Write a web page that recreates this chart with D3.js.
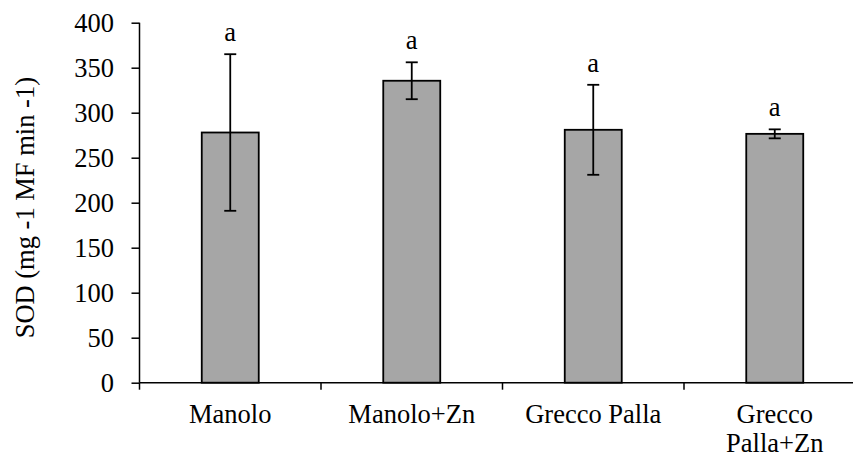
<!DOCTYPE html>
<html>
<head>
<meta charset="utf-8">
<script src="https://cdn.jsdelivr.net/npm/d3@7"></script>
<style>
  html, body { margin: 0; padding: 0; background: #fff; }
  svg text { font-family: "Liberation Serif", "Times New Roman", serif; fill: #000; }
</style>
</head>
<body>
<svg id="chart" width="853" height="457"></svg>
<script>
// SOD activity per treatment: mean, standard deviation and significance letter
const categories = ["Manolo", "Manolo+Zn", "Grecco Palla", "Grecco Palla+Zn"];
const categoryLines = [["Manolo"], ["Manolo+Zn"], ["Grecco Palla"], ["Grecco", "Palla+Zn"]];
const means = [278, 335.5, 281, 276.5];
const errors = [87, 20.5, 50, 5];
const letters = ["a", "a", "a", "a"];
const yTicks = [0, 50, 100, 150, 200, 250, 300, 350, 400];
const yTitle = "SOD (mg -1 MF min -1)";

const svg = d3.select("#chart");
const plotLeft = 139.5, plotTop = 22.7, plotBottom = 382.7, step = 181.5;

const x = d3.scaleBand()
  .domain(categories)
  .range([plotLeft, plotLeft + step * categories.length])
  .padding(0);

const y = d3.scaleLinear().domain([0, 400]).range([plotBottom, plotTop]);

const barW = x.bandwidth() * 0.314;
const fontSize = 26.5;

// Bars
svg.append("g").selectAll("rect")
  .data(categories)
  .join("rect")
  .attr("x", d => x(d) + x.bandwidth() / 2 - barW / 2)
  .attr("y", (d, i) => y(means[i]))
  .attr("width", barW)
  .attr("height", (d, i) => y(0) - y(means[i]))
  .attr("fill", "#a6a6a6")
  .attr("stroke", "#000")
  .attr("stroke-width", 1.8);

// Error bars
const eg = svg.append("g").attr("stroke", "#000").attr("stroke-width", 1.8);
categories.forEach((c, i) => {
  const cx = x(c) + x.bandwidth() / 2;
  const hi = y(means[i] + errors[i]), lo = y(means[i] - errors[i]);
  eg.append("line").attr("x1", cx).attr("x2", cx).attr("y1", hi).attr("y2", lo);
  eg.append("line").attr("x1", cx - 6).attr("x2", cx + 6).attr("y1", hi).attr("y2", hi);
  eg.append("line").attr("x1", cx - 6).attr("x2", cx + 6).attr("y1", lo).attr("y2", lo);
});

// Significance letters
svg.append("g").selectAll("text")
  .data(categories)
  .join("text")
  .attr("x", d => x(d) + x.bandwidth() / 2)
  .attr("y", (d, i) => y(means[i] + errors[i]) - 13)
  .attr("text-anchor", "middle")
  .attr("font-size", fontSize)
  .text((d, i) => letters[i]);

// Y axis
const yAxis = svg.append("g")
  .attr("transform", `translate(${plotLeft},0)`)
  .call(d3.axisLeft(y).tickValues(yTicks).tickSize(8).tickPadding(17.5).tickFormat(d3.format("d")));
yAxis.selectAll("path, line").attr("stroke", "#000").attr("stroke-width", 1.5);
yAxis.select(".domain").attr("d", `M0,${plotTop}V${plotBottom}`);
yAxis.selectAll("text").attr("font-size", fontSize).attr("font-family", "Liberation Serif");

// X axis (ticks sit on category boundaries)
const xg = svg.append("g").attr("transform", `translate(0,${plotBottom})`);
xg.append("line")
  .attr("x1", plotLeft).attr("x2", plotLeft + step * categories.length)
  .attr("stroke", "#000").attr("stroke-width", 1.5);
xg.selectAll("line.tick")
  .data(categories)
  .join("line")
  .attr("class", "tick")
  .attr("x1", d => x(d)).attr("x2", d => x(d))
  .attr("y1", 0).attr("y2", 7)
  .attr("stroke", "#000").attr("stroke-width", 1.5);

// Category labels
const labels = xg.selectAll("text.cat")
  .data(categories)
  .join("text")
  .attr("class", "cat")
  .attr("text-anchor", "middle")
  .attr("font-size", fontSize)
  .attr("transform", d => `translate(${x(d) + x.bandwidth() / 2},40.5)`);
labels.each(function(d, i) {
  d3.select(this).selectAll("tspan")
    .data(categoryLines[i])
    .join("tspan")
    .attr("x", 0)
    .attr("dy", (t, j) => j === 0 ? 0 : 28.5)
    .text(t => t);
});

// Y axis title
svg.append("text")
  .attr("transform", `translate(34,${(plotTop + plotBottom) / 2 + 5}) rotate(-90)`)
  .attr("text-anchor", "middle")
  .attr("font-size", fontSize)
  .text(yTitle);
</script>
</body>
</html>
